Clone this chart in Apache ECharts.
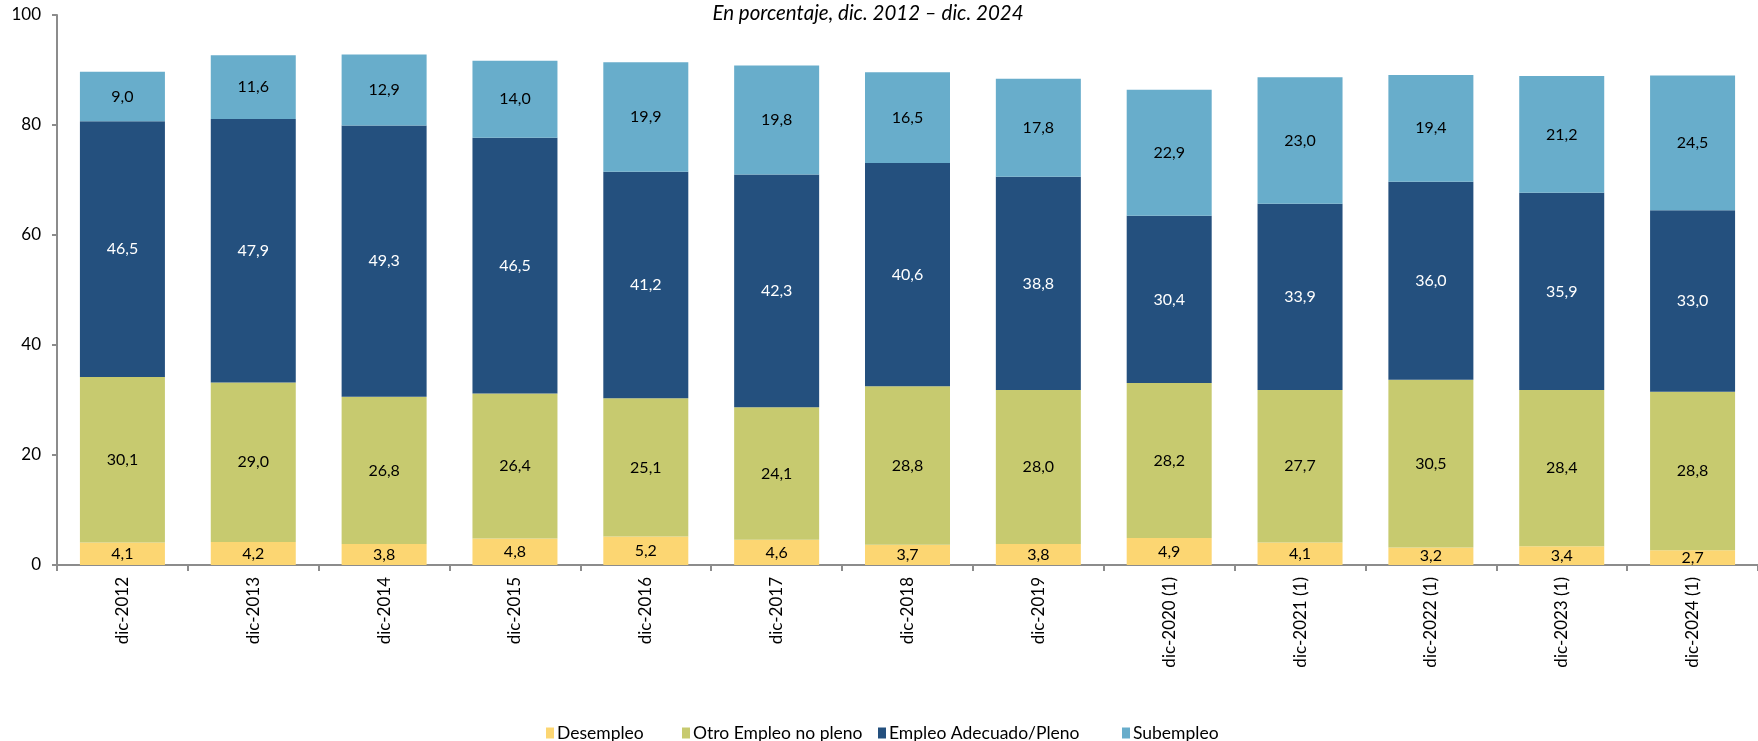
<!DOCTYPE html>
<html><head><meta charset="utf-8">
<script src="https://cdn.jsdelivr.net/npm/echarts@6/dist/echarts.min.js"></script>
<style>html,body{margin:0;padding:0;background:#fff}#c{width:1758px;height:741px}</style>
</head><body><div id="c"></div>
<script>
const categories = ['dic-2012','dic-2013','dic-2014','dic-2015','dic-2016','dic-2017','dic-2018','dic-2019','dic-2020 (1)','dic-2021 (1)','dic-2022 (1)','dic-2023 (1)','dic-2024 (1)'];
const desempleo = [4.1,4.2,3.8,4.8,5.2,4.6,3.7,3.8,4.9,4.1,3.2,3.4,2.7];
const otroEmpleo = [30.1,29.0,26.8,26.4,25.1,24.1,28.8,28.0,28.2,27.7,30.5,28.4,28.8];
const empleoAdecuado = [46.5,47.9,49.3,46.5,41.2,42.3,40.6,38.8,30.4,33.9,36.0,35.9,33.0];
const subempleo = [9.0,11.6,12.9,14.0,19.9,19.8,16.5,17.8,22.9,23.0,19.4,21.2,24.5];
const seriesNames = ['Desempleo','Otro Empleo no pleno','Empleo Adecuado/Pleno','Subempleo'];
const yTicks = [0,20,40,60,80,100];

const FONT = 'Lato';
function fmt(p){ return p.value.toFixed(1).replace('.', ','); }
function mk(name, data, color, labelColor){
  return {
    name, type:'bar', stack:'t', data, barWidth:85,
    itemStyle:{color},
    label:{show:true, position:'inside', formatter:fmt, color:labelColor, fontFamily:FONT, fontSize:16},
    emphasis:{disabled:true}
  };
}
const legendLefts = [541, 677, 873, 1117];
const legends = seriesNames.map((n,i)=>({
  data:[n], left:legendLefts[i], top:719, itemWidth:8, itemHeight:11, icon:'rect', itemGap:0,
  textStyle:{fontFamily:FONT, fontSize:17.5, color:'#000', padding:[0,0,0,-2]}
}));
const chart = echarts.init(document.getElementById('c'), null, {renderer:'canvas'});
chart.setOption({
  animation:false,
  title:{text:'En porcentaje, dic. 2012 – dic. 2024', left:863, textAlign:'center', top:-2,
    textStyle:{fontFamily:FONT, fontStyle:'italic', fontWeight:'normal', fontSize:20.5, color:'#000'}},
  grid:{left:57, top:15, width:1706, height:550, containLabel:false},
  legend:legends,
  xAxis:{type:'category', data:categories,
    axisLine:{lineStyle:{color:'#8c8c8c', width:2}},
    axisTick:{show:true, length:6, lineStyle:{color:'#8c8c8c', width:2}},
    axisLabel:{rotate:90, margin:12, color:'#000', fontFamily:FONT, fontSize:17}},
  yAxis:{type:'value', min:0, max:100, interval:20,
    axisLine:{show:true, lineStyle:{color:'#8c8c8c', width:2}},
    axisTick:{show:true, length:5, lineStyle:{color:'#8c8c8c', width:2}},
    splitLine:{show:false},
    axisLabel:{color:'#000', fontFamily:FONT, fontSize:17, margin:16,
      formatter:v => yTicks.includes(v) ? String(v) : ''}},
  series:[
    mk(seriesNames[0], desempleo, '#FCD672', '#000'),
    mk(seriesNames[1], otroEmpleo, '#C7CA6F', '#000'),
    mk(seriesNames[2], empleoAdecuado, '#24507E', '#fff'),
    mk(seriesNames[3], subempleo, '#68ADCB', '#000')
  ]
});
</script></body></html>
